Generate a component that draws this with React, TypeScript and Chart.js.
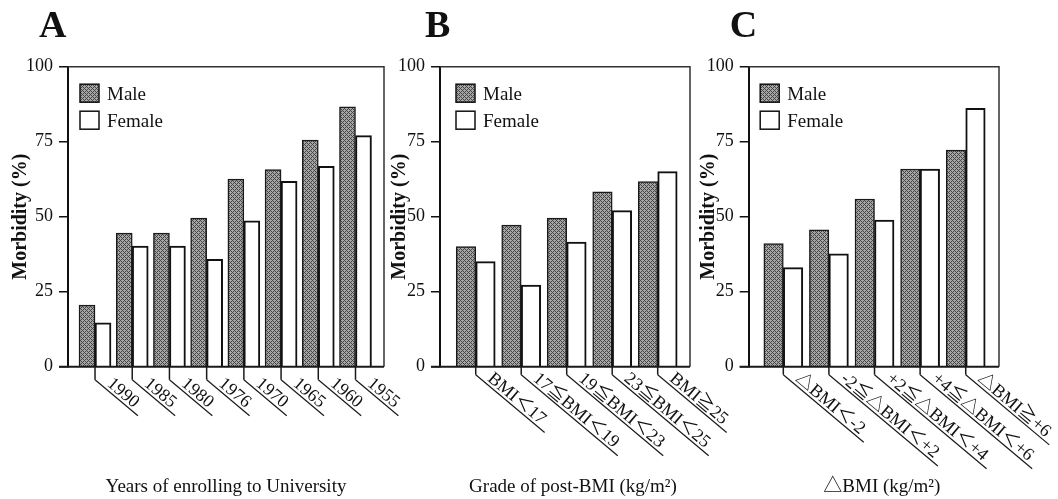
import React, { useEffect, useRef } from 'react';
import { Chart, registerables } from 'chart.js';

Chart.register(...registerables);

const FONT = "'Liberation Serif', 'Times New Roman', 'Noto Sans CJK JP', serif";
const W = 1058;
const H = 499;

// ---- data ----
const seriesNames = ['Male', 'Female'];
const yAxisTitle = 'Morbidity (%)';
const yTickStep = 25;

const yearsA = ['1990', '1985', '1980', '1976', '1970', '1965', '1960', '1955'];
const maleA = [20.5, 44.5, 44.5, 49.5, 62.5, 65.7, 75.5, 86.6];
const femaleA = [14.6, 40.2, 40.2, 35.8, 48.6, 61.8, 66.8, 77];

const gradesB = ['BMI＜17', '17≦BMI＜19', '19≦BMI＜23', '23≦BMI＜25', 'BMI≧25'];
const maleB = [40, 47.2, 49.5, 58.3, 61.7];
const femaleB = [35, 27.2, 41.5, 52, 65];

const deltasC = ['△BMI＜-2', '-2≦△BMI＜+2', '+2≦△BMI＜+4', '+4≦△BMI＜+6', '△BMI≧+6'];
const maleC = [41, 45.6, 55.9, 65.9, 72.2];
const femaleC = [33, 37.6, 48.9, 65.9, 86.1];

type PanelCfg = {
  letter: string;
  categories: string[];
  male: number[];
  female: number[];
  xTitle: string;
  padLeft: number;
  padRight: number;
  yWidth: number;
  xMin: number;
  xMax: number;
  barThickness: number;
  tickLen: number;
  letterDx: number;
  titlePad: number;
  legendDx: number;
  xTitleDx: number;
};

const panels: PanelCfg[] = [
  {
    letter: 'A', categories: yearsA, male: maleA, female: femaleA,
    xTitle: 'Years of enrolling to University',
    padLeft: 0, padRight: W - 384, yWidth: 68,
    xMin: -0.726, xMax: 7.766, barThickness: 16, tickLen: 13,
    letterDx: -29, titlePad: 9, legendDx: 12, xTitleDx: 0,
  },
  {
    letter: 'B', categories: gradesB, male: maleB, female: femaleB,
    xTitle: 'Grade of post-BMI (kg/m²)',
    padLeft: 380, padRight: W - 690, yWidth: 60,
    xMin: -0.785, xMax: 4.71, barThickness: 19.5, tickLen: 8,
    letterDx: -15, titlePad: 8, legendDx: 16, xTitleDx: 8,
  },
  {
    letter: 'C', categories: deltasC, male: maleC, female: femaleC,
    xTitle: '△BMI (kg/m²)',
    padLeft: 688.7, padRight: W - 999, yWidth: 60,
    xMin: -0.759, xMax: 4.73, barThickness: 19.5, tickLen: 8,
    letterDx: -19, titlePad: 8, legendDx: 11.5, xTitleDx: 8,
  },
];

function makeHatch(): CanvasPattern | string {
  const c = document.createElement('canvas');
  c.width = 4;
  c.height = 4;
  const g = c.getContext('2d');
  if (!g) return '#888';
  g.fillStyle = '#a6a6a6';
  g.fillRect(0, 0, 4, 4);
  g.fillStyle = '#454545';
  for (let x = 0; x < 4; x++) {
    for (let y = 0; y < 4; y++) {
      if ((x + y) % 4 === 0 || (x - y + 4) % 4 === 0) g.fillRect(x, y, 1, 1);
    }
  }
  const p = g.createPattern(c, 'repeat');
  return p || '#888';
}

function makeDecor(cfg: PanelCfg) {
  return {
    id: 'decor' + cfg.letter,
    afterDraw(chart: any) {
      const { ctx, chartArea: a, scales } = chart;
      const xs = scales.x;
      ctx.save();
      ctx.strokeStyle = '#1a1a1a';
      ctx.fillStyle = '#111';
      // frame (top, right, bottom)
      ctx.lineWidth = 1.5;
      ctx.strokeStyle = '#333';
      ctx.beginPath();
      ctx.moveTo(a.left, a.top);
      ctx.lineTo(a.right, a.top);
      ctx.lineTo(a.right, a.bottom);
      ctx.stroke();
      ctx.strokeStyle = '#1a1a1a';
      ctx.lineWidth = 2;
      ctx.beginPath();
      ctx.moveTo(a.left - 9, a.bottom);
      ctx.lineTo(a.right, a.bottom);
      ctx.stroke();

      // x ticks with slanted labels
      const ang = (40 * Math.PI) / 180;
      ctx.font = `18px ${FONT}`;
      cfg.categories.forEach((lab, i) => {
        const x = xs.getPixelForValue(i);
        ctx.lineWidth = 1.5;
        ctx.beginPath();
        ctx.moveTo(x, a.bottom);
        ctx.lineTo(x, a.bottom + cfg.tickLen);
        ctx.stroke();
        ctx.save();
        ctx.translate(x, a.bottom + cfg.tickLen);
        ctx.rotate(ang);
        const w = ctx.measureText(lab).width;
        ctx.lineWidth = 1.2;
        ctx.beginPath();
        ctx.moveTo(0, 0);
        ctx.lineTo(12 + w + 8, 0);
        ctx.stroke();
        ctx.textAlign = 'left';
        ctx.textBaseline = 'alphabetic';
        ctx.fillText(lab, 12, -3);
        ctx.restore();
      });

      // x title
      ctx.font = `19px ${FONT}`;
      ctx.textAlign = 'center';
      ctx.textBaseline = 'middle';
      ctx.fillText(cfg.xTitle, (a.left + a.right) / 2 + cfg.xTitleDx, chart.height - 12);

      // panel letter
      ctx.font = `bold 38px ${FONT}`;
      ctx.textAlign = 'left';
      ctx.textBaseline = 'alphabetic';
      ctx.fillText(cfg.letter, a.left + cfg.letterDx, 37);

      // legend
      ctx.font = `19px ${FONT}`;
      chart.data.datasets.forEach((ds: any, k: number) => {
        const bx = a.left + cfg.legendDx;
        const by = a.top + 17.5 + k * 27;
        ctx.fillStyle = ds.backgroundColor;
        ctx.fillRect(bx, by, 19, 18);
        ctx.lineWidth = 1.5;
        ctx.strokeStyle = '#111';
        ctx.strokeRect(bx, by, 19, 18);
        ctx.fillStyle = '#111';
        ctx.textAlign = 'left';
        ctx.textBaseline = 'alphabetic';
        ctx.fillText(ds.label, bx + 27, by + 16);
      });
      ctx.restore();
    },
  };
}

function Panel({ cfg }: { cfg: PanelCfg }) {
  const ref = useRef<HTMLCanvasElement>(null);
  useEffect(() => {
    if (!ref.current) return;
    const hatch = makeHatch();
    const chart = new Chart(ref.current, {
      type: 'bar',
      data: {
        datasets: [
          {
            label: seriesNames[0],
            data: cfg.categories.map((_, i) => ({ x: i, y: cfg.male[i] })),
            backgroundColor: hatch as any,
            borderColor: '#1a1a1a',
            borderWidth: 1.5,
            barThickness: cfg.barThickness,
          },
          {
            label: seriesNames[1],
            data: cfg.categories.map((_, i) => ({ x: i, y: cfg.female[i] })),
            backgroundColor: '#ffffff',
            borderColor: '#111',
            borderWidth: 2,
            barThickness: cfg.barThickness,
          },
        ],
      },
      options: {
        animation: false,
        responsive: false,
        maintainAspectRatio: false,
        events: [],
        layout: { padding: { left: cfg.padLeft, right: cfg.padRight, top: 66.7, bottom: 0 } },
        plugins: { legend: { display: false }, tooltip: { enabled: false }, title: { display: false } },
        scales: {
          x: {
            type: 'linear',
            min: cfg.xMin,
            max: cfg.xMax,
            offset: false,
            ticks: { display: false },
            grid: { display: false },
            border: { display: false },
            afterFit: (s: any) => { s.height = H - 366.7; },
          },
          y: {
            type: 'linear',
            min: 0,
            max: 100,
            ticks: {
              stepSize: yTickStep,
              font: { family: FONT, size: 18 },
              color: '#111',
              padding: 6,
            },
            grid: { drawOnChartArea: false, drawTicks: true, tickLength: 9, color: '#111', lineWidth: 1.5 },
            border: { display: true, color: '#111', width: 2 },
            title: {
              display: true,
              text: yAxisTitle,
              font: { family: FONT, size: 20, weight: 'bold' },
              color: '#111',
              padding: { top: cfg.titlePad, bottom: 0 },
            },
            afterFit: (s: any) => { s.width = cfg.yWidth; },
          },
        },
      } as any,
      plugins: [makeDecor(cfg)],
    });
    return () => chart.destroy();
  }, [cfg]);
  return (
    <canvas
      ref={ref}
      width={W}
      height={H}
      style={{ position: 'absolute', left: 0, top: 0, width: W, height: H }}
    />
  );
}

export default function App() {
  return (
    <div style={{ position: 'absolute', left: 0, top: 0, width: W, height: H, background: '#fff', overflow: 'hidden' }}>
      {panels.map((p) => (
        <Panel key={p.letter} cfg={p} />
      ))}
    </div>
  );
}
